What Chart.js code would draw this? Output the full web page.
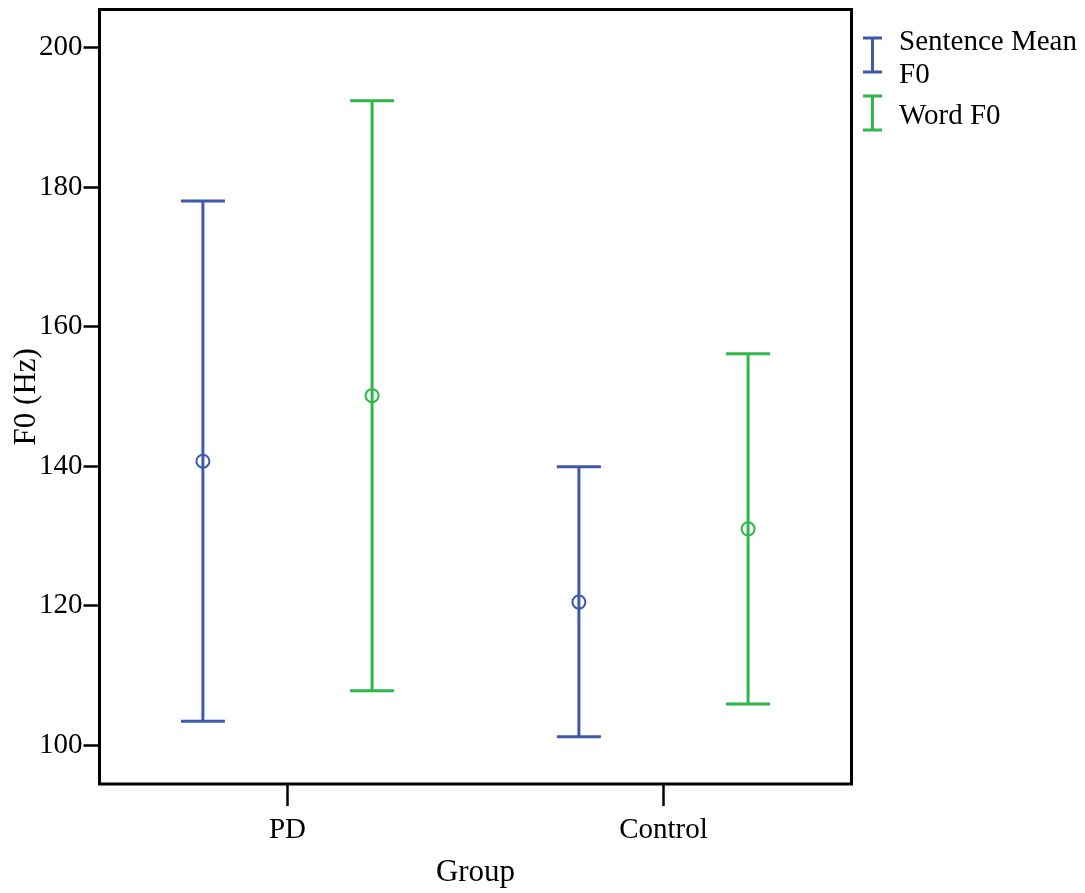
<!DOCTYPE html>
<html>
<head>
<meta charset="utf-8">
<script src="https://cdn.jsdelivr.net/npm/chart.js@4/dist/chart.umd.min.js"></script>
<style>
  html, body { margin: 0; padding: 0; background: #fff; }
  #wrap { width: 1085px; height: 893px; position: relative; }
</style>
</head>
<body>
<div id="wrap"><canvas id="c" width="1085" height="893"></canvas></div>
<script>
// ---- data ----
const groups = ['PD', 'Control'];
const seriesNames = ['Sentence Mean F0', 'Word F0'];
const sentenceMean = [140.7, 120.5];
const sentenceLow  = [103.4, 101.2];
const sentenceHigh = [178.0, 139.9];
const wordMean = [150.1, 131.0];
const wordLow  = [107.8, 105.9];
const wordHigh = [192.4, 156.1];
const yTicks = [100, 120, 140, 160, 180, 200];

// ---- styling ----
const BLUE = '#3E58AC';
const GREEN = '#2EB848';
const FONT = '"Liberation Serif", "Times New Roman", serif';
const groupPos = groups.map((g, i) => 1 + 2 * i);
const OFFSET = 0.45;

function pts(means, off) {
  return means.map((m, i) => ({ x: groupPos[i] + off, y: m }));
}

const errorBars = {
  id: 'errorBars',
  beforeDatasetsDraw(chart) {
    const ctx = chart.ctx;
    const xs = chart.scales.x, ys = chart.scales.y;
    chart.data.datasets.forEach(ds => {
      ctx.save();
      ctx.strokeStyle = ds.borderColor;
      ctx.lineWidth = 3;
      ds.data.forEach((p, i) => {
        const x = xs.getPixelForValue(p.x);
        const yl = ys.getPixelForValue(ds.low[i]);
        const yh = ys.getPixelForValue(ds.high[i]);
        const cap = 22;
        ctx.beginPath();
        ctx.moveTo(x, yl); ctx.lineTo(x, yh);
        ctx.moveTo(x - cap, yl); ctx.lineTo(x + cap, yl);
        ctx.moveTo(x - cap, yh); ctx.lineTo(x + cap, yh);
        ctx.stroke();
      });
      ctx.restore();
    });
  },
  afterDraw(chart) {
    const ctx = chart.ctx;
    const a = chart.chartArea;
    ctx.save();
    ctx.strokeStyle = '#000';
    ctx.lineWidth = 3;
    ctx.strokeRect(a.left, a.top, a.right - a.left, a.bottom - a.top);
    // legend
    const items = [
      { color: BLUE, lines: ['Sentence Mean', 'F0'], top: 38, bottom: 72, base: 50 },
      { color: GREEN, lines: ['Word F0'], top: 96, bottom: 130, base: 124 }
    ];
    ctx.font = '29px ' + FONT;
    ctx.fillStyle = '#000';
    ctx.textBaseline = 'alphabetic';
    ctx.textAlign = 'left';
    items.forEach(it => {
      ctx.strokeStyle = it.color;
      ctx.lineWidth = 3;
      const cx = 872.5, hw = 9.5;
      ctx.beginPath();
      ctx.moveTo(cx, it.top); ctx.lineTo(cx, it.bottom);
      ctx.moveTo(cx - hw, it.top); ctx.lineTo(cx + hw, it.top);
      ctx.moveTo(cx - hw, it.bottom); ctx.lineTo(cx + hw, it.bottom);
      ctx.stroke();
      it.lines.forEach((t, k) => ctx.fillText(t, 899, it.base + k * 33));
    });
    ctx.restore();
  }
};

new Chart(document.getElementById('c'), {
  type: 'scatter',
  data: {
    datasets: [
      {
        label: seriesNames[0],
        data: pts(sentenceMean, -OFFSET),
        low: sentenceLow, high: sentenceHigh,
        borderColor: BLUE, backgroundColor: 'rgba(0,0,0,0)',
        pointRadius: 6.5, pointBorderWidth: 2, pointHoverRadius: 6.5
      },
      {
        label: seriesNames[1],
        data: pts(wordMean, OFFSET),
        low: wordLow, high: wordHigh,
        borderColor: GREEN, backgroundColor: 'rgba(0,0,0,0)',
        pointRadius: 6.5, pointBorderWidth: 2, pointHoverRadius: 6.5
      }
    ]
  },
  options: {
    responsive: false,
    animation: false,
    events: [],
    layout: { padding: { top: 9.5, right: 233.5, left: 0, bottom: 0 } },
    plugins: { legend: { display: false }, tooltip: { enabled: false } },
    scales: {
      x: {
        type: 'linear', min: 0, max: 4,
        afterBuildTicks(s) { s.ticks = groupPos.map(v => ({ value: v })); },
        afterFit(s) { s.height = 109; s.paddingLeft = 0; s.paddingRight = 0; },
        ticks: {
          callback: (v) => groups[groupPos.indexOf(v)] || '',
          font: { family: FONT, size: 29 }, color: '#000', padding: 7, maxRotation: 0
        },
        grid: { drawOnChartArea: false, drawTicks: true, tickLength: 22, tickWidth: 2.5, tickColor: '#000' },
        border: { display: false },
        title: { display: true, text: 'Group', font: { family: FONT, size: 31 }, color: '#000', padding: { top: 0, bottom: 2 } }
      },
      y: {
        type: 'linear', min: 94.41, max: 205.48,
        afterBuildTicks(s) { s.ticks = yTicks.map(v => ({ value: v })); },
        afterFit(s) { s.width = 99.5; s.paddingTop = 0; s.paddingBottom = 0; },
        ticks: { font: { family: FONT, size: 29 }, color: '#000', padding: 1 },
        grid: { drawOnChartArea: false, drawTicks: true, tickLength: 16, tickWidth: 2.5, tickColor: '#000' },
        border: { display: false },
        title: { display: true, text: 'F0 (Hz)', font: { family: FONT, size: 31 }, color: '#000', padding: { top: 8, bottom: 0 } }
      }
    }
  },
  plugins: [errorBars]
});
</script>
</body>
</html>
